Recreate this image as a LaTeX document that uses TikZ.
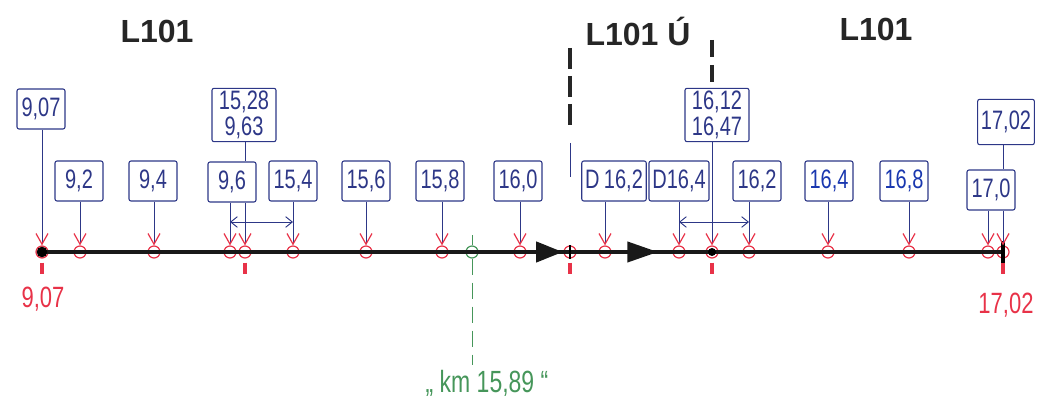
\documentclass[tikz,border=0pt]{standalone}
\usepackage{fontspec}
\setmainfont{Liberation Sans}
\newfontfamily\handfont[FakeStretch=0.75]{Liberation Sans}
\usepackage{tikz}
\usepackage{xcolor}
\usetikzlibrary{arrows.meta,decorations.markings}

\definecolor{ink}{RGB}{45,55,135}
\definecolor{inkb}{RGB}{25,55,175}
\definecolor{kmred}{RGB}{232,50,72}
\definecolor{kmgreen}{RGB}{70,150,90}

\begin{document}
\begin{tikzpicture}[x=0.75pt,y=-0.75pt]
  \tikzstyle{boxn}=[rectangle,draw=ink,text=ink,line width=0.8pt,rounded corners=1.5pt,
    inner xsep=2.5pt,inner ysep=2pt,minimum width=36pt,minimum height=30pt,
    font=\handfont\fontsize{20}{17}\selectfont]
  \tikzstyle{twon}=[boxn,align=center,minimum width=48pt,minimum height=40pt,
    inner ysep=1pt,font=\handfont\fontsize{20}{19.5}\selectfont]
  \tikzstyle{cirn}=[circle,draw=kmred,line width=0.9pt,inner sep=0,minimum size=9pt]
  \tikzstyle{drop}=[ink,line width=0.7pt,-{Straight Barb[length=8pt,width=9pt,color=kmred,line width=0.9pt]}]
  \tikzstyle{dimn}=[ink,line width=0.7pt,{Straight Barb[length=5pt,width=8pt]}-{Straight Barb[length=5pt,width=8pt]}]
  \tikzstyle{titn}=[font=\bfseries\fontsize{24}{24}\selectfont,text=black!85]
  \tikzstyle{zone}=[black!85,line width=2.5pt,dash pattern=on 16pt off 5pt]
  \tikzstyle{redtick}=[kmred,line width=2.5pt]
  \tikzstyle{kmlab}=[text=kmred,font=\handfont\fontsize{22}{22}\selectfont]

  \useasboundingbox (0,0) rectangle (1038,398);

  % line names
  \node[titn] (t1) at (157,31) {L101};
  \node[titn] (t2) at (638,31) {L101 Ú};
  \node[titn] (t3) at (876,29) {L101};

  % stations on the track
  \foreach \n/\x in {1/42,2/80,3/154,4/230,5/245,6/293,7/366,8/442,9/520,10/570,
                     11/605,12/679,13/712,14/749,15/828,16/909,17/988,18/1003}
    \node[cirn] (s\n) at (\x,252) {};
  \node[cirn,draw=kmgreen] (km) at (472,252) {};

  % track with direction
  \draw[black!90,line width=3pt,postaction={decorate},decoration={markings,
      mark=at position 0.542 with {\arrow{Triangle[length=20pt,width=15pt]}},
      mark=at position 0.641 with {\arrow{Triangle[length=23pt,width=15pt]}}}]
    (s1.center) -- (s18.center);
  \fill[black] (s1) circle (4pt);
  \fill[black] (s13) circle (3pt);
  \draw[black,line width=1pt] (s10.north) -- (s10.south);
  \draw[black,line width=3pt] ([yshift=3pt]s18.north) -- ([yshift=-3pt]s18.south);
  \foreach \n in {1,5,10,13,18}
    \draw[redtick] ([yshift=-3pt]s\n.south) -- ++(0,11);

  % section borders
  \coordinate (ua) at (570,48);
  \coordinate (uc) at (712,40);
  \draw[zone] (ua) -- ++(0,78);
  \draw[zone,dash pattern=on 12.75pt off 6pt] (uc) -- ++(0,42);
  \draw[ink,line width=0.7pt] (570,143) -- (570,177);

  % km boxes
  \node[boxn] (b907) at (41,109) {9,07};
  \node[boxn] (b92) at (79,181) {9,2};
  \node[boxn] (b94) at (153,181) {9,4};
  \node[boxn] (b96) at (232,182) {9,6};
  \node[twon] (b1528) at (244,115) {15,28\\9,63};
  \node[boxn] (b154) at (293,181) {15,4};
  \node[boxn] (b156) at (366,181) {15,6};
  \node[boxn] (b158) at (440,181) {15,8};
  \node[boxn] (b160) at (518,181) {16,0};
  \node[boxn] (bD162) at (614,181) {D\,16,2};
  \node[boxn] (bD164) at (679,181) {D16,4};
  \node[twon] (b1612) at (717,115) {16,12\\16,47};
  \node[boxn] (b162) at (757,181) {16,2};
  \node[boxn,text=inkb] (b164) at (829,181) {16,4};
  \node[boxn,text=inkb] (b168) at (904,181) {16,8};
  \node[boxn,minimum height=34pt] (b1702) at (1006,122) {17,02};
  \node[boxn] (b170) at (991,190) {17,0};

  \foreach \b/\s in {b907/s1,b92/s2,b94/s3,b96/s4,b96/s5,b154/s6,b156/s7,b158/s8,
                     b160/s9,bD162/s11,bD164/s12,b1612/s13,b162/s14,b164/s15,
                     b168/s16,b170/s17,b170/s18}
    \draw[drop] (\b.south -| \s) -- (\s);
  \draw[ink,line width=0.7pt] (b1528.south -| s5) -- (b96.north -| s5);
  \draw[ink,line width=0.7pt] (b1702.south -| s18) -- (b170.north -| s18);

  % lengths
  \coordinate (dimy) at (0,222);
  \draw[dimn] (s4 |- dimy) -- (s6 |- dimy);
  \draw[dimn] (s12 |- dimy) -- (s14 |- dimy);

  % ends
  \node[kmlab] (lbeg) at (43,299) {9,07};
  \node[kmlab] (lend) at (1006,305) {17,02};

  % green km point
  \node[text=kmgreen,font=\handfont\fontsize{23}{23}\selectfont] (kmlbl) at (487,383) {„ km 15,89 “};
  \draw[kmgreen,line width=0.7pt] (km.north) -- ++(0,-10);
  \draw[kmgreen,line width=0.7pt,dash pattern=on 12pt off 6pt] (km.south) -- (km |- kmlbl.north);
\end{tikzpicture}
\end{document}
